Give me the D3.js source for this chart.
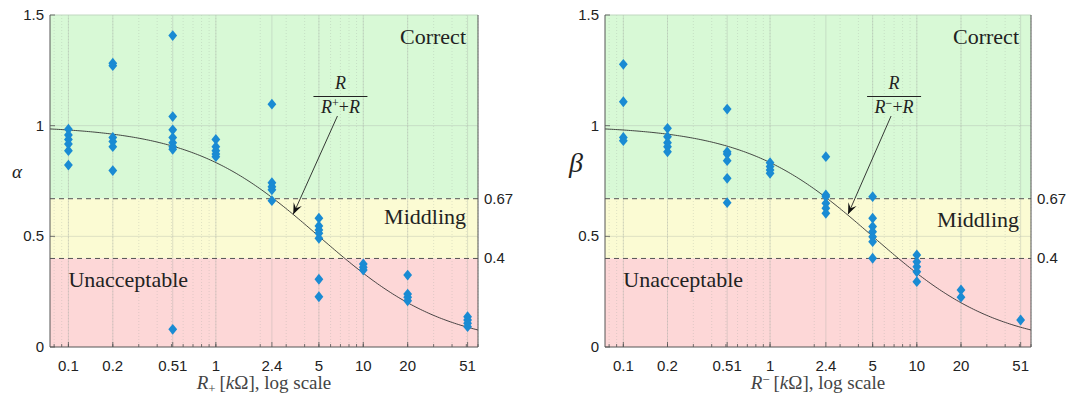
<!DOCTYPE html>
<html><head><meta charset="utf-8">
<script src="https://cdn.jsdelivr.net/npm/d3@7"></script>
<style>body{margin:0;background:#fff}svg{display:block}</style>
</head><body>
<svg id="c" width="1083" height="395"></svg>
<script>
const xTicks = [0.1, 0.2, 0.51, 1, 2.4, 5, 10, 20, 51];
const xTickLabels = ["0.1", "0.2", "0.51", "1", "2.4", "5", "10", "20", "51"];
const yTicks = [0, 0.5, 1, 1.5];
const yTickLabels = ["0", "0.5", "1", "1.5"];
const thresholds = [0.4, 0.67];
const thresholdLabels = ["0.4", "0.67"];
const refR = 5;

const alphaX = [0.1,0.1,0.1,0.1,0.1,0.1,
  0.2,0.2,0.2,0.2,0.2,0.2,
  0.51,0.51,0.51,0.51,0.51,0.51,0.51,0.51,
  1,1,1,1,1,
  2.4,2.4,2.4,2.4,2.4,
  5,5,5,5,5,5,5,
  10,10,10,
  20,20,20,20,
  51,51,51,51];
const alphaY = [0.984,0.958,0.938,0.917,0.887,0.822,
  1.282,1.271,0.947,0.928,0.905,0.797,
  1.407,1.041,0.981,0.946,0.923,0.905,0.893,0.08,
  0.938,0.905,0.887,0.872,0.86,
  1.097,0.742,0.724,0.71,0.661,
  0.582,0.547,0.529,0.514,0.491,0.306,0.227,
  0.375,0.36,0.348,
  0.325,0.239,0.225,0.209,
  0.137,0.122,0.107,0.092];

const betaX = [0.1,0.1,0.1,0.1,
  0.2,0.2,0.2,0.2,0.2,
  0.51,0.51,0.51,0.51,0.51,0.51,
  1,1,1,1,
  2.4,2.4,2.4,2.4,2.4,2.4,
  5,5,5,5,5,5,5,
  10,10,10,10,10,
  20,20,
  51];
const betaY = [1.277,1.108,0.947,0.932,
  0.988,0.95,0.923,0.905,0.882,
  1.075,0.882,0.872,0.842,0.762,0.652,
  0.833,0.815,0.8,0.785,
  0.86,0.687,0.679,0.649,0.627,0.604,
  0.679,0.582,0.544,0.521,0.498,0.476,0.401,
  0.416,0.385,0.363,0.34,0.295,
  0.258,0.225,
  0.122];

const svg = d3.select("#c");
const serif = "'Liberation Serif', 'DejaVu Serif', serif";
const sans = "'Liberation Sans', Arial, sans-serif";

function panel(opt) {
  const {left, right, top, bottom, xs, ys, sub} = opt;
  const x = d3.scaleLog().domain([0.075, 60]).range([left, right]);
  const y = d3.scaleLinear().domain([0, 1.5]).range([bottom, top]);
  const g = svg.append("g");
  const bands = [[thresholds[1], 1.5, "#d8f9d6"], [thresholds[0], thresholds[1], "#fbfbd3"], [0, thresholds[0], "#fdd7d7"]];
  g.selectAll("rect.band").data(bands).join("rect")
    .attr("x", left).attr("width", right - left)
    .attr("y", d => y(d[1])).attr("height", d => y(d[0]) - y(d[1]))
    .attr("fill", d => d[2]);
  const minors = [];
  [0.01, 0.1, 1, 10].forEach(dec => { for (let k = 1; k <= 9; k++) { const v = dec * k; if (v >= 0.075 && v <= 60) minors.push(v); } });
  g.selectAll("line.minor").data(minors).join("line")
    .attr("x1", d => x(d)).attr("x2", d => x(d)).attr("y1", top).attr("y2", bottom)
    .attr("stroke", "#9aa09a").attr("stroke-opacity", 0.4).attr("stroke-width", 0.7).attr("stroke-dasharray", "1,2");
  g.selectAll("line.majx").data(xTicks).join("line")
    .attr("x1", d => x(d)).attr("x2", d => x(d)).attr("y1", top).attr("y2", bottom)
    .attr("stroke", "#a0a8a0").attr("stroke-opacity", 0.4).attr("stroke-width", 0.8);
  g.selectAll("line.majy").data(yTicks.slice(1, 3)).join("line")
    .attr("x1", left).attr("x2", right).attr("y1", d => y(d)).attr("y2", d => y(d))
    .attr("stroke", "#a0a8a0").attr("stroke-opacity", 0.4).attr("stroke-width", 0.8);
  g.selectAll("line.th").data(thresholds).join("line")
    .attr("x1", left).attr("x2", right).attr("y1", d => y(d)).attr("y2", d => y(d))
    .attr("stroke", "#555").attr("stroke-width", 1).attr("stroke-dasharray", "5,4");
  g.selectAll("text.th").data(thresholds).join("text")
    .attr("x", right + 6).attr("y", d => y(d) + 5)
    .attr("font-family", sans).attr("font-size", 15).attr("fill", "#222")
    .text((d, i) => thresholdLabels[i]);
  g.append("text").attr("x", right - 12).attr("y", 44).attr("text-anchor", "end")
    .attr("font-family", serif).attr("font-size", 22).attr("fill", "#222").text("Correct");
  g.append("text").attr("x", right - 12).attr("y", opt.midY).attr("text-anchor", "end")
    .attr("font-family", serif).attr("font-size", 22).attr("fill", "#222").text("Middling");
  g.append("text").attr("x", x(0.1)).attr("y", 287).attr("text-anchor", "start")
    .attr("font-family", serif).attr("font-size", 22).attr("fill", "#222").text("Unacceptable");
  const cv = d3.range(0, 201).map(i => Math.pow(10, Math.log10(0.075) + i / 200 * (Math.log10(60) - Math.log10(0.075))));
  g.append("path").datum(cv)
    .attr("d", d3.line().x(d => x(d)).y(d => y(refR / (d + refR))))
    .attr("fill", "none").attr("stroke", "#333").attr("stroke-width", 0.9);
  g.append("line").attr("x1", left).attr("x2", right).attr("y1", top).attr("y2", top).attr("stroke", "#c0d8c0").attr("stroke-width", 1);
  g.append("line").attr("x1", left).attr("x2", left).attr("y1", top).attr("y2", bottom).attr("stroke", "#555").attr("stroke-width", 1);
  g.append("line").attr("x1", right).attr("x2", right).attr("y1", top).attr("y2", bottom).attr("stroke", "#555").attr("stroke-width", 1);
  g.append("line").attr("x1", left).attr("x2", right).attr("y1", bottom).attr("y2", bottom).attr("stroke", "#555").attr("stroke-width", 1);
  g.selectAll("line.mt").data(minors).join("line")
    .attr("x1", d => x(d)).attr("x2", d => x(d)).attr("y1", bottom).attr("y2", bottom - 3)
    .attr("stroke", "#555").attr("stroke-width", 0.8);
  g.selectAll("line.Mt").data(xTicks).join("line")
    .attr("x1", d => x(d)).attr("x2", d => x(d)).attr("y1", bottom).attr("y2", bottom - 5)
    .attr("stroke", "#555").attr("stroke-width", 0.8);
  g.selectAll("line.yt").data(yTicks).join("line")
    .attr("x1", left).attr("x2", left + 5).attr("y1", d => y(d)).attr("y2", d => y(d))
    .attr("stroke", "#555").attr("stroke-width", 0.8);
  g.selectAll("text.xt").data(xTicks).join("text")
    .attr("x", d => x(d)).attr("y", bottom + 24).attr("text-anchor", "middle")
    .attr("font-family", sans).attr("font-size", 15).attr("fill", "#222")
    .text((d, i) => xTickLabels[i]);
  g.selectAll("text.yt").data(yTicks).join("text")
    .attr("x", left - 6).attr("y", d => y(d) + 5).attr("text-anchor", "end")
    .attr("font-family", sans).attr("font-size", 15).attr("fill", "#222")
    .text((d, i) => yTickLabels[i]);
  const xl = g.append("text").attr("x", (left + right) / 2).attr("y", 389).attr("text-anchor", "middle")
    .attr("font-family", serif).attr("font-size", 19).attr("fill", "#444");
  xl.append("tspan").attr("font-style", "italic").text("R");
  if (sub) {
    xl.append("tspan").attr("font-size", 13).attr("dy", 4).text("+");
    xl.append("tspan").attr("dy", -4).text("\u2009[");
  } else {
    xl.append("tspan").attr("font-size", 13).attr("dy", -5).text("\u2212");
    xl.append("tspan").attr("dy", 5).text("\u2009[");
  }
  xl.append("tspan").attr("font-style", "italic").text("k");
  xl.append("tspan").text("\u03A9], log scale");
  g.append("text").attr("x", opt.ylx).attr("y", opt.yly).attr("text-anchor", "middle")
    .attr("font-family", serif).attr("font-style", "italic").attr("font-size", opt.ylSize).attr("fill", "#222")
    .text(opt.ylabel);
  const fx = x(opt.fracX);
  g.append("text").attr("x", fx).attr("y", 89).attr("text-anchor", "middle")
    .attr("font-family", serif).attr("font-style", "italic").attr("font-size", 18).attr("fill", "#222").text("R");
  g.append("line").attr("x1", fx - 27).attr("x2", fx + 27).attr("y1", 96.5).attr("y2", 96.5).attr("stroke", "#222").attr("stroke-width", 1);
  const den = g.append("text").attr("x", fx).attr("y", 113).attr("text-anchor", "middle")
    .attr("font-family", serif).attr("font-size", 18).attr("fill", "#222");
  den.append("tspan").attr("font-style", "italic").text("R");
  den.append("tspan").attr("font-size", 12).attr("dy", -6).text(sub ? "+" : "\u2212");
  den.append("tspan").attr("dy", 6).text("+");
  den.append("tspan").attr("font-style", "italic").text("R");
  const ax1 = fx - 3, ay1 = 116, ax2 = x(opt.arrowX), ay2 = y(0.6);
  g.append("line").attr("x1", ax1).attr("y1", ay1).attr("x2", ax2).attr("y2", ay2).attr("stroke", "#222").attr("stroke-width", 0.9);
  const ang = Math.atan2(ay2 - ay1, ax2 - ax1);
  const hl = 11, hw = 4.5;
  const bx = ax2 - hl * Math.cos(ang), by = ay2 - hl * Math.sin(ang);
  const nx = -Math.sin(ang), ny = Math.cos(ang);
  const mx = ax2 - 0.6 * hl * Math.cos(ang), my = ay2 - 0.6 * hl * Math.sin(ang);
  g.append("path").attr("d", `M${ax2},${ay2}L${bx + nx * hw},${by + ny * hw}L${mx},${my}L${bx - nx * hw},${by - ny * hw}Z`).attr("fill", "#111");
  const pts = xs.map((v, i) => [v, ys[i]]);
  g.selectAll("path.pt").data(pts).join("path")
    .attr("transform", d => `translate(${x(d[0])},${y(d[1])})`)
    .attr("d", "M0,-5.4L4.4,0L0,5.4L-4.4,0Z")
    .attr("fill", "#1a8bd3");
}

panel({left: 50, right: 478, top: 15, bottom: 347, xs: alphaX, ys: alphaY, sub: true, midY: 224,
  ylabel: "\u03B1", ylx: 17, yly: 178, ylSize: 19, fracX: 7.0, arrowX: 3.35});
panel({left: 605, right: 1031, top: 15, bottom: 347, xs: betaX, ys: betaY, sub: false, midY: 227,
  ylabel: "\u03B2", ylx: 576, yly: 172, ylSize: 28, fracX: 7.0, arrowX: 3.4});
</script>
</body></html>
